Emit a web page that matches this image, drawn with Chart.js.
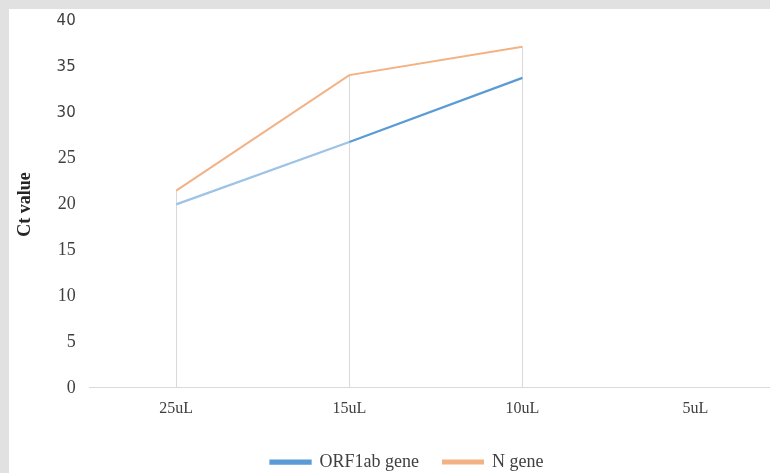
<!DOCTYPE html>
<html>
<head>
<meta charset="utf-8">
<script src="https://cdn.jsdelivr.net/npm/chart.js@4"></script>
<style>
  html, body { margin: 0; padding: 0; width: 770px; height: 473px; overflow: hidden; background: #fff; }
  body { border-top: 9px solid #e1e1e1; border-left: 9px solid #e1e1e1; box-sizing: border-box; position: relative; }
  #wrap { position: absolute; left: -3px; top: -11px; width: 776px; height: 483px; }
</style>
</head>
<body>
<div id="wrap"><canvas id="ctChart"></canvas></div>
<script>
const volumes = ["25uL", "15uL", "10uL", "5uL"];
const orf1abCt = [20.0, 26.8, 33.8, null];
const nGeneCt = [21.5, 34.1, 37.2, null];
const yTicks = [0, 5, 10, 15, 20, 25, 30, 35, 40];

// Excel-style drop lines from the highest point down to the axis
const dropLines = {
  id: "dropLines",
  beforeDatasetsDraw(chart) {
    const { ctx, scales: { x, y } } = chart;
    ctx.save();
    ctx.strokeStyle = "#d9d9d9";
    ctx.lineWidth = 1;
    volumes.forEach((v, i) => {
      const vals = chart.data.datasets.map((d) => d.data[i]).filter((n) => n != null);
      if (!vals.length) return;
      const px = Math.round(x.getPixelForValue(i)) + 0.5;
      ctx.beginPath();
      ctx.moveTo(px, y.getPixelForValue(Math.max(...vals)));
      ctx.lineTo(px, y.getPixelForValue(0));
      ctx.stroke();
    });
    ctx.restore();
  },
};

// the source legend sits a little right of the canvas centre
const legendShift = {
  id: "legendShift",
  afterLayout(chart) {
    chart.legend.left += 13;
    chart.legend.right += 13;
  },
};

new Chart(document.getElementById("ctChart"), {
  type: "line",
  data: {
    labels: volumes,
    datasets: [
      {
        label: "ORF1ab gene",
        data: orf1abCt,
        borderColor: "#5b9bd5",
        backgroundColor: "#5b9bd5",
        borderWidth: 2.25,
        pointRadius: 0,
        tension: 0,
        segment: {
          borderColor: (ctx) => (ctx.p0DataIndex === 0 ? "#9dc3e6" : "#5b9bd5"),
        },
      },
      {
        label: "N gene",
        data: nGeneCt,
        borderColor: "#f4b183",
        backgroundColor: "#f4b183",
        borderWidth: 2,
        pointRadius: 0,
        tension: 0,
      },
    ],
  },
  options: {
    responsive: true,
    maintainAspectRatio: false,
    animation: false,
    layout: { padding: 0 },
    plugins: {
      legend: {
        position: "bottom",
        labels: {
          boxWidth: 40,
          boxHeight: 3,
          padding: 24,
          color: "#404040",
          font: { family: "'Liberation Serif', 'Times New Roman', serif", size: 18 },
        },
      },
      tooltip: { enabled: false },
    },
    scales: {
      x: {
        offset: true,
        grid: { display: false, drawTicks: false },
        border: { display: true, color: "#d9d9d9", width: 1 },
        ticks: {
          padding: 11,
          color: "#404040",
          font: { family: "'Liberation Serif', 'Times New Roman', serif", size: 16 },
        },
      },
      y: {
        min: 0,
        max: 40,
        afterBuildTicks: (axis) => {
          axis.ticks = yTicks.map((v) => ({ value: v }));
        },
        grid: { display: false, drawTicks: false },
        border: { display: false },
        title: {
          display: true,
          text: "Ct value",
          color: "#262626",
          font: { family: "'Liberation Serif', 'Times New Roman', serif", size: 18, weight: "bold" },
          padding: { top: 9, bottom: 6 },
        },
        ticks: {
          padding: 14,
          color: "#404040",
          font: (ctx) =>
            ctx.tick && ctx.tick.value >= 30
              ? { family: "'DejaVu Sans', sans-serif", size: 15 }
              : { family: "'Liberation Serif', 'Times New Roman', serif", size: 18 },
        },
      },
    },
  },
  plugins: [dropLines, legendShift],
});
</script>
</body>
</html>
